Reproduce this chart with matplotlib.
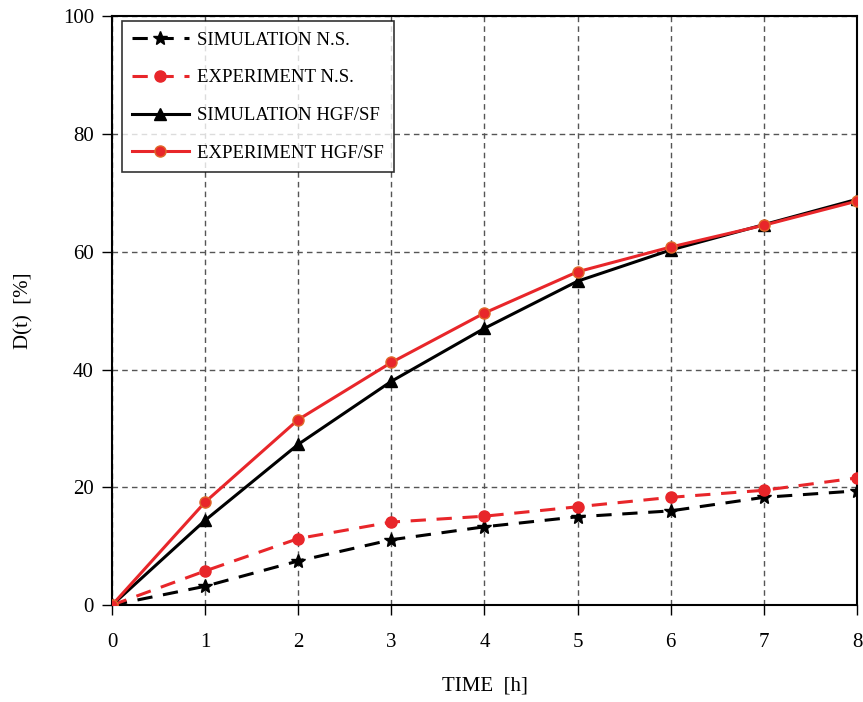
import matplotlib
matplotlib.use("Agg")
import matplotlib.pyplot as plt

time_h = [0, 1, 2, 3, 4, 5, 6, 7, 8]
sim_ns = [0, 3.2, 7.5, 11.1, 13.3, 15.0, 16.0, 18.3, 19.4]
exp_ns = [0, 5.8, 11.3, 14.1, 15.1, 16.7, 18.3, 19.5, 21.6]
sim_hgf = [0, 14.4, 27.3, 38.0, 47.0, 55.0, 60.3, 64.6, 68.9]
exp_hgf = [0, 17.5, 31.5, 41.2, 49.6, 56.6, 60.8, 64.5, 68.6]
labels = ["SIMULATION N.S.", "EXPERIMENT N.S.", "SIMULATION HGF/SF", "EXPERIMENT HGF/SF"]

plt.rcParams['font.family'] = ['Liberation Serif', 'DejaVu Serif']
red = '#e8262a'

fig = plt.figure(figsize=(8.63, 7.02), dpi=100)
ax = fig.add_axes([0.1298, 0.138, 0.8632, 0.839])

ax.plot(time_h, sim_ns, color='black', ls=(0, (5, 3.5)), lw=2.2, marker='*', ms=10, label=labels[0], zorder=3)
ax.plot(time_h, exp_ns, color=red, ls=(0, (5, 3.5)), lw=2.2, marker='o', ms=8, mec=red, label=labels[1], zorder=3)
ax.plot(time_h, sim_hgf, color='black', ls='-', lw=2.2, marker='^', ms=8, label=labels[2], zorder=3)
ax.plot(time_h, exp_hgf, color=red, ls='-', lw=2.2, marker='o', ms=8, mec='#e06a2a', mfc=red, label=labels[3], zorder=4)

ax.set_xlim(0, 8)
ax.set_ylim(0, 100)
ax.set_xticks(range(0, 9))
ax.set_yticks(range(0, 101, 20))
ax.grid(True, color='#555555', ls=(0, (4, 3)), lw=1)
ax.tick_params(direction='out', length=7, width=1, labelsize=15, colors='black')
ax.tick_params(axis='x', pad=13)
ax.tick_params(axis='y', pad=6)
for s in ax.spines.values():
    s.set_linewidth(1.5)
    s.set_color('black')

ax.set_xlabel("TIME  [h]", fontsize=15, labelpad=18)
ax.set_ylabel("D(t)  [%]", fontsize=15, labelpad=21)

leg = ax.legend(loc='upper left', bbox_to_anchor=(0.0134, 0.9915), fontsize=13.5, frameon=True,
                fancybox=False, edgecolor='black', handlelength=3.0, handletextpad=0.45,
                labelspacing=1.1, borderpad=0.55, borderaxespad=0)
leg.get_frame().set_linewidth(1.2)

fig.savefig("out.png", dpi=100)
